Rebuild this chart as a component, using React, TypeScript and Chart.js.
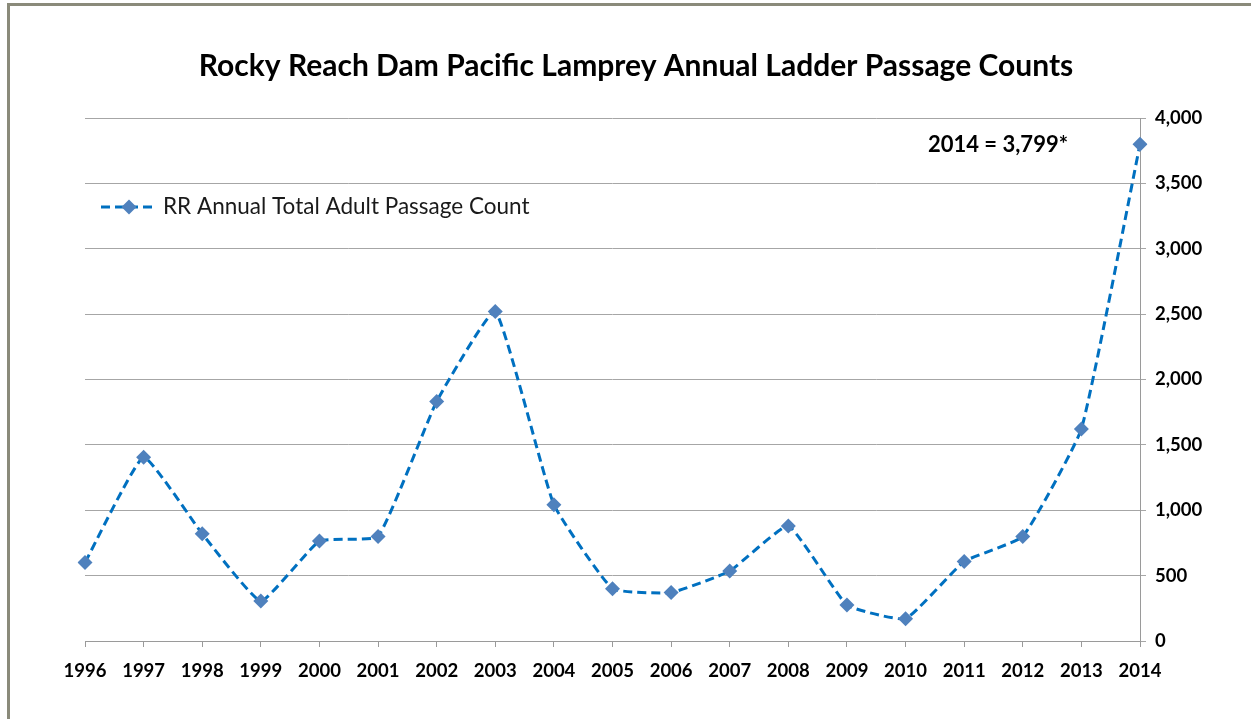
import React, { useEffect, useRef } from "react";
import { Chart, registerables } from "chart.js";

Chart.register(...registerables);

const years = ["1996", "1997", "1998", "1999", "2000", "2001", "2002", "2003", "2004", "2005", "2006", "2007", "2008", "2009", "2010", "2011", "2012", "2013", "2014"];
const counts = [600, 1405, 820, 305, 765, 800, 1832, 2520, 1042, 400, 370, 535, 880, 275, 170, 608, 800, 1622, 3799];
const yTicks = [0, 500, 1000, 1500, 2000, 2500, 3000, 3500, 4000];
const titleText = "Rocky Reach Dam Pacific Lamprey Annual Ladder Passage Counts";
const seriesLabel = "RR Annual Total Adult Passage Count";
const noteText = "2014 = 3,799*";

const FONT = "Lato, 'Open Sans', sans-serif";
const LINE = "#0070C0";
const MARK = "#4F81BD";

export default function App() {
  const ref = useRef<HTMLCanvasElement | null>(null);
  useEffect(() => {
    document.body.style.margin = "0";
    document.body.style.overflow = "hidden";
    const canvas = ref.current!;
    const deco = {
      id: "deco",
      beforeDraw(chart: any) {
        const c = chart.ctx;
        c.save();
        c.fillStyle = "#ffffff";
        c.fillRect(0, 0, chart.width, chart.height);
        c.fillStyle = "#8a8a7a";
        c.fillRect(7, 3, chart.width, 3);
        c.fillRect(7, 3, 3, chart.height);
        c.restore();
      },
      afterDraw(chart: any) {
        const c = chart.ctx;
        const a = chart.chartArea;
        c.save();
        // title
        c.fillStyle = "#000";
        c.font = `bold 30px ${FONT}`;
        c.textAlign = "center";
        c.textBaseline = "middle";
        c.fillText(titleText, 636, 66);
        // legend
        const ly = a.top + 89;
        const lx = a.left + 16;
        c.strokeStyle = LINE;
        c.lineWidth = 3;
        c.setLineDash([9, 5]);
        c.beginPath();
        c.moveTo(lx, ly);
        c.lineTo(lx + 56, ly);
        c.stroke();
        c.setLineDash([]);
        c.fillStyle = MARK;
        const dx = lx + 28;
        c.beginPath();
        c.moveTo(dx, ly - 7.5);
        c.lineTo(dx + 7.5, ly);
        c.lineTo(dx, ly + 7.5);
        c.lineTo(dx - 7.5, ly);
        c.closePath();
        c.fill();
        c.fillStyle = "#1a1a1a";
        c.font = `22.5px ${FONT}`;
        c.textAlign = "left";
        c.fillText(seriesLabel, lx + 62, ly);
        // note
        c.fillStyle = "#000";
        c.font = `bold 22px ${FONT}`;
        c.textAlign = "right";
        c.fillText(noteText, a.right - 72, a.top + 27);
        c.restore();
      },
    };
    const chart = new Chart(canvas, {
      type: "line",
      data: {
        labels: years,
        datasets: [
          {
            label: seriesLabel,
            data: counts,
            borderColor: LINE,
            borderWidth: 3,
            borderDash: [9, 5],
            tension: 0.12,
            pointStyle: "rectRot",
            pointRadius: 7.5,
            pointBackgroundColor: MARK,
            pointBorderColor: MARK,
            pointBorderWidth: 0,
            fill: false,
          },
        ],
      },
      options: {
        responsive: false,
        animation: false,
        layout: { padding: { left: 85, top: 118, right: 0, bottom: 0 } },
        plugins: { legend: { display: false }, title: { display: false }, tooltip: { enabled: false } },
        scales: {
          x: {
            type: "category",
            offset: false,
            afterFit(s: any) { s.height = 78; },
            grid: { drawOnChartArea: false, drawTicks: true, tickLength: 6, color: "#9a9a9a" },
            border: { display: true, color: "#9a9a9a", width: 1 },
            ticks: { color: "#000", font: { family: FONT, size: 18.5, weight: "bold" }, padding: 13, maxRotation: 0, autoSkip: false },
          },
          y: {
            position: "right",
            min: 0,
            max: 4000,
            afterFit(s: any) { s.width = 111; },
            afterBuildTicks(s: any) { s.ticks = yTicks.map((v) => ({ value: v })); },
            grid: { drawOnChartArea: true, drawTicks: true, tickLength: 6, color: "#a6a6a6" },
            border: { display: true, color: "#9a9a9a", width: 1 },
            ticks: {
              color: "#000",
              font: { family: FONT, size: 18.5, weight: "bold" },
              padding: 9,
              callback: (v: any) => Number(v).toLocaleString("en-US"),
            },
          },
        },
      },
      plugins: [deco],
    });
    return () => chart.destroy();
  }, []);
  return <canvas ref={ref} width={1251} height={719} style={{ display: "block", width: 1251, height: 719 }} />;
}
